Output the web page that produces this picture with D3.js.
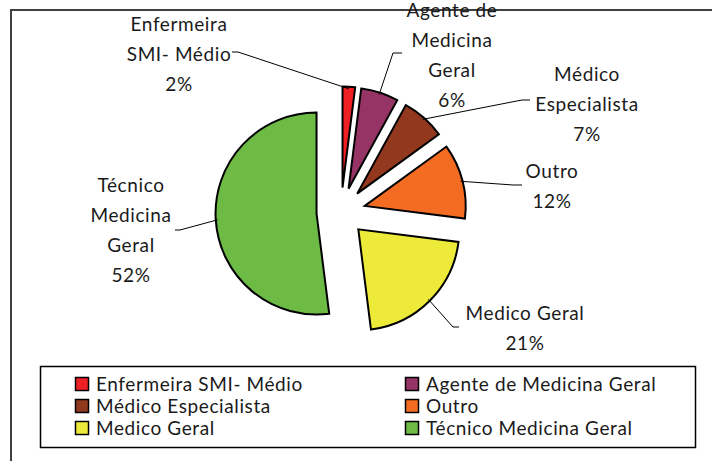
<!DOCTYPE html>
<html>
<head>
<meta charset="utf-8">
<script src="https://cdn.jsdelivr.net/npm/d3@7"></script>
<style>
  body { margin: 0; background: #fff; }
  svg text { font-family: Lato, "Liberation Sans", sans-serif; fill: #1a1a1a; letter-spacing: 0.6px; }
</style>
</head>
<body>
<div id="main"></div>
<script>
// data
var categories = ["Enfermeira SMI- Médio", "Agente de Medicina Geral", "Médico Especialista", "Outro", "Medico Geral", "Técnico Medicina Geral"];
var values = [2, 6, 7, 12, 21, 52];
var colors = ["#ee2024", "#953465", "#91381e", "#f36c21", "#edea3a", "#6dbb45"];
// how the data labels wrap
var labelWrap = [["Enfermeira", "SMI- Médio"], ["Agente de", "Medicina", "Geral"], ["Médico", "Especialista"], ["Outro"], ["Medico Geral"], ["Técnico", "Medicina", "Geral"]];

var ctx = {
    w: 712,
    h: 461,
    cx: 341,
    cy: 212,
    r: 101,
    explode: 24.5,
    lineH: 30,
    fontSize: 19
};

// label placement: text centre x, first baseline, leader anchor and stub end
var labelLayout = [
    { x: 179, y: 31, a: [232, 52], b: [238, 52] },
    { x: 452, y: 17, a: [402, 53], b: [393, 53] },
    { x: 587, y: 81, a: [530, 100], b: [522, 100] },
    { x: 552, y: 178, a: [522, 185], b: [513, 185] },
    { x: 525, y: 320, a: [459, 327], b: [453, 327] },
    { x: 131, y: 192, a: [175, 230], b: [180, 230] }
];

var svg = d3.select("#main").append("svg")
    .attr("width", ctx.w)
    .attr("height", ctx.h);

// chart frame (runs off the right and bottom)
svg.append("rect")
    .attr("x", 11).attr("y", 10)
    .attr("width", 760).attr("height", 500)
    .attr("fill", "none")
    .attr("stroke", "#404040")
    .attr("stroke-width", 2);

var total = d3.sum(values);
var pie = d3.pie().sort(null).value(function(d) { return d; });
var arcs = pie(values);
var arc = d3.arc().innerRadius(0).outerRadius(ctx.r);

var mid = function(d) { return (d.startAngle + d.endAngle) / 2; };
var offset = function(d, k) {
    var a = mid(d);
    return [ctx.cx + k * Math.sin(a), ctx.cy - k * Math.cos(a)];
};

var g = svg.append("g");

// slices, each pushed out along its middle angle
g.selectAll("path.slice")
    .data(arcs)
    .enter().append("path")
    .attr("class", "slice")
    .attr("d", arc)
    .attr("transform", function(d) { return "translate(" + offset(d, ctx.explode) + ")"; })
    .attr("fill", function(d, i) { return colors[i]; })
    .attr("stroke", "#000")
    .attr("stroke-width", 2)
    .attr("stroke-linejoin", "miter");

// leader lines
g.selectAll("path.leader")
    .data(arcs)
    .enter().append("path")
    .attr("class", "leader")
    .attr("fill", "none")
    .attr("stroke", "#000")
    .attr("stroke-width", 1)
    .attr("d", function(d, i) {
        var p = offset(d, ctx.explode + ctx.r - 2);
        var L = labelLayout[i];
        return d3.line()([L.a, L.b, p]);
    });

// data labels
var labels = svg.selectAll("text.lbl")
    .data(arcs)
    .enter().append("text")
    .attr("class", "lbl")
    .attr("text-anchor", "middle")
    .style("font-size", ctx.fontSize + "px");

labels.each(function(d, i) {
    var lines = labelWrap[i].concat([Math.round(values[i] / total * 100) + "%"]);
    var L = labelLayout[i];
    d3.select(this).selectAll("tspan")
        .data(lines)
        .enter().append("tspan")
        .attr("x", L.x)
        .attr("y", function(t, j) { return L.y + j * ctx.lineH; })
        .text(function(t) { return t; });
});

// legend
var legend = svg.append("g");
legend.append("rect")
    .attr("x", 40.5).attr("y", 366.5)
    .attr("width", 655).attr("height", 81)
    .attr("fill", "#fff")
    .attr("stroke", "#000")
    .attr("stroke-width", 1.5);

var colX = d3.scaleOrdinal().domain([0, 1]).range([75, 405]);
var rowY = d3.scaleLinear().domain([0, 1]).range([377, 399]);

var item = legend.selectAll("g.item")
    .data(categories)
    .enter().append("g")
    .attr("class", "item")
    .attr("transform", function(d, i) { return "translate(" + colX(i % 2) + "," + rowY(Math.floor(i / 2)) + ")"; });

item.append("rect")
    .attr("x", 0.5).attr("y", 0.5)
    .attr("width", 13).attr("height", 13)
    .attr("fill", function(d, i) { return colors[i]; })
    .attr("stroke", "#000")
    .attr("stroke-width", 1.5);

item.append("text")
    .attr("x", 21)
    .attr("y", 14)
    .style("font-size", ctx.fontSize + "px")
    .text(function(d) { return d; });
</script>
</body>
</html>
